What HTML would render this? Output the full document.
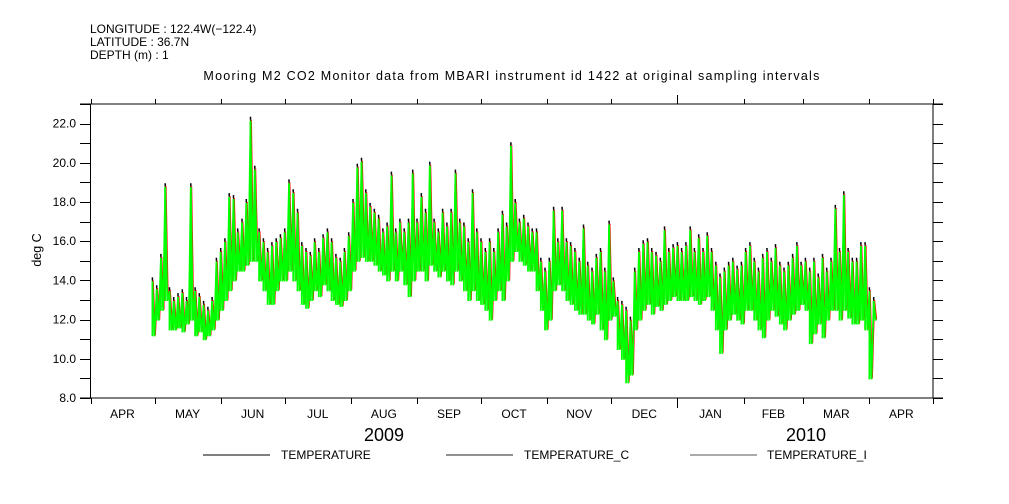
<!DOCTYPE html>
<html><head><meta charset="utf-8">
<style>
html,body{margin:0;padding:0;background:#fff;}
svg{display:block;font-family:"Liberation Sans",sans-serif;}
</style></head>
<body>
<svg id="chart" width="1009" height="504" viewBox="0 0 1009 504">
  <g font-size="12" fill="#000">
    <text x="90" y="33">LONGITUDE : 122.4W(−122.4)</text>
    <text x="90" y="46">LATITUDE : 36.7N</text>
    <text x="90" y="59">DEPTH (m) : 1</text>
  </g>
  <text x="512" y="80" font-size="12.5" text-anchor="middle" letter-spacing="1.25">Mooring M2 CO2 Monitor data from MBARI instrument id 1422 at original sampling intervals</text>
  <text x="0" y="0" font-size="12.5" text-anchor="middle" transform="translate(41,250) rotate(-90)">deg C</text>
  <g id="axes"></g>
  <g id="series"></g>
  <text x="384" y="441" font-size="18" text-anchor="middle">2009</text>
  <text x="806" y="441" font-size="18" text-anchor="middle">2010</text>
  <g font-size="12">
    <g>
      <line x1="203" y1="455" x2="270" y2="455" stroke="#000" stroke-width="1"/>
      <text x="281" y="459">TEMPERATURE</text>
    </g>
    <g>
      <line x1="446" y1="455" x2="513" y2="455" stroke="#222" stroke-width="1"/>
      <text x="524" y="459">TEMPERATURE_C</text>
    </g>
    <g>
      <line x1="690" y1="455" x2="757" y2="455" stroke="#555" stroke-width="1"/>
      <text x="767" y="459">TEMPERATURE_I</text>
    </g>
  </g>
</svg>
<script>
// data: every 2 days starting day 29 after 1 Apr 2009
const startDay = 29;
const stepDays = 2;
const monthLabels = ["APR","MAY","JUN","JUL","AUG","SEP","OCT","NOV","DEC","JAN","FEB","MAR","APR"];
const monthStartDays = [0,30,61,91,122,153,183,214,244,275,306,334,365,395];
const yTicks = [8,10,12,14,16,18,20,22];
const yTickLabels = ["8.0","10.0","12.0","14.0","16.0","18.0","20.0","22.0"];
const tempHigh = [
14.0,13.6,15.2,18.8,13.5,13.0,13.2,13.4,13.0,18.8,13.5,13.2,12.8,12.5,13.0,15.0,
15.5,16.0,18.3,18.2,16.5,17.0,18.0,22.2,19.7,16.5,16.0,15.5,15.8,16.0,16.2,
16.5,19.0,18.5,17.5,15.8,15.5,15.3,16.0,15.5,16.2,16.5,16.0,15.2,15.0,15.5,16.3,
18.0,19.8,20.1,18.5,17.8,17.5,17.2,16.5,16.8,19.4,16.5,17.0,16.5,17.0,19.5,17.0,
18.3,17.5,19.9,17.0,16.5,17.5,16.8,17.5,19.5,17.0,16.8,16.0,18.5,16.5,16.0,
15.5,16.0,15.5,16.5,17.4,16.8,20.9,18.0,17.0,17.2,16.8,16.5,16.5,15.0,14.5,15.0,
17.6,16.0,17.6,16.0,15.8,15.5,15.0,16.7,14.8,14.5,15.2,15.5,14.5,16.9,14.0,
13.0,12.8,12.5,12.0,14.5,15.5,15.9,16.0,15.5,15.3,15.0,16.6,15.5,15.7,15.8,15.5,
15.8,16.6,15.5,16.2,15.5,16.3,15.5,14.8,14.2,14.5,14.8,15.0,14.6,14.8,15.5,
15.8,15.0,14.5,15.2,15.5,15.0,15.7,14.8,14.5,14.8,15.2,15.8,14.8,15.0,
14.5,15.0,14.2,15.2,14.5,15.0,17.7,15.5,18.4,15.5,15.0,15.0,15.8,15.8,13.5,13.0];
const tempLow = [
11.2,12.0,12.5,13.0,11.5,11.5,11.6,11.4,11.8,12.0,11.2,11.4,11.0,11.2,11.5,12.0,
12.5,13.0,13.5,14.0,14.5,14.5,14.8,15.0,15.0,14.0,13.5,12.8,12.8,13.5,14.0,
14.0,14.5,14.0,13.5,12.8,12.6,13.0,13.5,13.2,13.8,13.5,13.0,12.8,12.7,13.0,13.5,
14.5,15.0,15.2,15.0,15.0,14.8,14.5,14.3,14.0,14.5,14.0,14.5,13.8,13.2,14.0,14.5,
14.5,14.0,14.8,14.5,14.2,14.5,14.0,13.8,14.5,14.0,13.5,13.0,13.5,13.0,12.8,
12.5,12.0,13.0,13.5,13.0,14.0,15.0,15.5,15.0,14.8,14.5,14.5,13.5,12.5,11.5,12.0,
13.5,13.8,13.5,13.0,12.8,12.5,12.3,12.3,12.0,11.8,12.3,11.5,11.0,12.0,12.2,
10.5,10.0,8.8,9.2,11.5,12.0,12.5,12.8,12.3,12.7,12.5,12.8,13.0,13.2,13.0,13.0,
13.0,13.2,13.0,12.8,13.0,13.2,12.5,11.5,10.3,11.5,12.0,12.3,12.0,11.8,12.5,
12.5,12.0,11.5,11.1,12.0,12.5,12.2,11.8,11.5,12.0,12.3,12.5,12.8,12.5,
10.8,11.3,11.8,11.1,12.0,12.5,12.5,12.0,12.5,12.1,11.8,11.8,12.0,11.5,9.0,12.0];

const NS = "http://www.w3.org/2000/svg";
const X0 = 90.5, PX_PER_DAY = 2.134, PLOT_L = 90.5, PLOT_R = 933, PLOT_T = 104, PLOT_B = 398;
const Y_MIN = 8, Y_MAX = 23;
function xScale(d){ return X0 + d * PX_PER_DAY; }
function yScale(v){ return PLOT_B - (v - Y_MIN) / (Y_MAX - Y_MIN) * (PLOT_B - PLOT_T); }
function mk(tag, attrs, parent){
  const e = document.createElementNS(NS, tag);
  for (const k in attrs) e.setAttribute(k, attrs[k]);
  parent.appendChild(e);
  return e;
}
const axes = document.getElementById("axes");
const series = document.getElementById("series");

const frame = mk("path", {d:`M80 ${PLOT_T}H943M80 ${PLOT_B}H943M${PLOT_L} ${PLOT_T}V${PLOT_B}M${PLOT_R} ${PLOT_T}V${PLOT_B}`, stroke:"#000", "stroke-width":"1", fill:"none"}, axes);



for (let v = Y_MIN; v <= Y_MAX; v++) {
  const y = Math.round(yScale(v)) + 0.5;
  const t = mk("path", {d:`M80 ${y}H${PLOT_L}M${PLOT_R} ${y}H943`, stroke:"#000", "stroke-width":"1"}, axes);
  
  
}
yTicks.forEach((v, i) => {
  const lb = mk("text", {x:"76", y:(yScale(v) + 4).toFixed(1), "font-size":"12", "text-anchor":"end"}, axes);
  lb.textContent = yTickLabels[i];
  
  
});

monthStartDays.forEach((d, i) => {
  const x = Math.round(xScale(d)) + 0.5;
  const isYear = (d === 275);
  const t = mk("path", {d:`M${x} ${isYear ? 95 : 99}V${PLOT_T}M${x} ${PLOT_B}V${isYear ? 408 : 404}`, stroke:"#000", "stroke-width":"1"}, axes);
  
  
  if (i < monthLabels.length) {
    const mid = (xScale(d) + xScale(monthStartDays[i + 1])) / 2;
    const lb = mk("text", {x:mid.toFixed(1), y:"418", "font-size":"12", "text-anchor":"middle"}, axes);
    lb.textContent = monthLabels[i];
    
    
  }
});

const pts = [];
for (let i = 0; i < tempHigh.length; i++) {
  const x = xScale(startDay + i * stepDays);
  pts.push([x, yScale(tempHigh[i])]);
  pts.push([x + PX_PER_DAY * stepDays / 2, yScale(tempLow[i])]);
}
const ptStr = pts.map(p => p[0].toFixed(1) + "," + p[1].toFixed(1)).join(" ");
const blackLine = mk("polyline", {points: ptStr, fill:"none", stroke:"#000", "stroke-width":"1"}, series);



let dBars = "", dCaps = "";
for (let i = 0; i < tempHigh.length; i++) {
  const x = xScale(startDay + i * stepDays);
  const yh = yScale(tempHigh[i]), yl = yScale(tempLow[i]);
  dBars += `M${x.toFixed(1)} ${yh.toFixed(1)}V${yl.toFixed(1)}`;
  dCaps += `M${x.toFixed(1)} ${(yh - 3).toFixed(1)}V${yh.toFixed(1)}`;
}
const redLine = mk("polyline", {points: ptStr, fill:"none", stroke:"#ff0000", "stroke-width":"1.2", transform:"translate(0.8,0)"}, series);


const greenLine = mk("polyline", {points: ptStr, fill:"none", stroke:"#00ff00", "stroke-width":"1.7", transform:"translate(0,1)"}, series);


const greenBars = mk("path", {d:dBars, fill:"none", stroke:"#00ff00", "stroke-width":"1.8", transform:"translate(0,1)"}, series);


const caps = mk("path", {d:dCaps, fill:"none", stroke:"#000", "stroke-width":"1.5"}, series);


</script>
</body></html>
